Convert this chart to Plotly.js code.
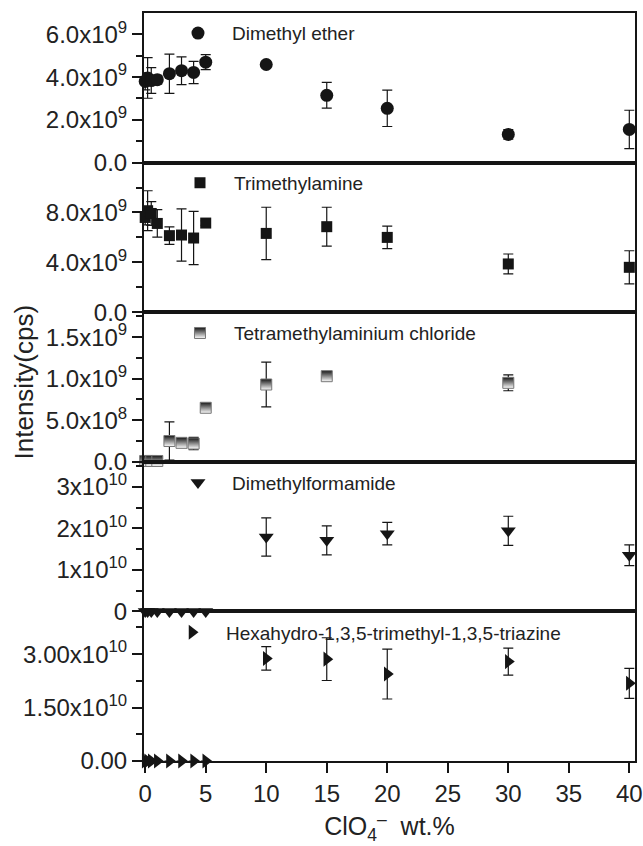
<!DOCTYPE html>
<html><head><meta charset="utf-8">
<script src="https://cdn.plot.ly/plotly-3.0.1.min.js"></script>
<style>html,body{margin:0;padding:0;background:#fff}#chart{width:643px;height:846px}</style>
</head><body><div id="chart"></div>
<script>
const xVals = [0, 0.2, 0.5, 1, 2, 3, 4, 5, 10, 15, 20, 30, 40];

const names = ['Dimethyl ether', 'Trimethylamine', 'Tetramethylaminium chloride', 'Dimethylformamide', 'Hexahydro-1,3,5-trimethyl-1,3,5-triazine'];

const dmeY   = [3.8e9, 3.96e9, 3.84e9, 3.88e9, 4.16e9, 4.3e9, 4.22e9, 4.7e9, 4.59e9, 3.15e9, 2.54e9, 1.32e9, 1.55e9];
const dmeErr = [0.4e9, 0.95e9, 0.6e9, 0.2e9, 0.92e9, 0.65e9, 0.52e9, 0.35e9, 0.1e9, 0.6e9, 0.85e9, 0.22e9, 0.9e9];

const tmaY   = [7.6e9, 8.14e9, 7.92e9, 7.12e9, 6.14e9, 6.19e9, 5.95e9, 7.15e9, 6.32e9, 6.86e9, 6.0e9, 3.87e9, 3.6e9];
const tmaErr = [0.6e9, 1.6e9, 0.95e9, 1.1e9, 0.7e9, 2.1e9, 2.13e9, 0.18e9, 2.1e9, 1.56e9, 0.9e9, 0.8e9, 1.33e9];

const tmacY   = [0.01e9, 0.01e9, 0.01e9, 0.01e9, 0.25e9, 0.228e9, 0.22e9, 0.65e9, 0.93e9, 1.03e9, null, 0.95e9, null];
const tmacErr = [0, 0, 0, 0, 0.23e9, 0, 0.075e9, 0.02e9, 0.27e9, 0.02e9, 0, 0.095e9, 0];

const dmfY   = [0, 0, 0, 0, 0, 0, 0, 0, 1.79e10, 1.71e10, 1.87e10, 1.94e10, 1.35e10];
const dmfErr = [0, 0, 0, 0, 0, 0, 0, 0, 0.46e10, 0.35e10, 0.27e10, 0.35e10, 0.25e10];

const hexY   = [0, 0, 0, 0, 0, 0, 0, 0, 2.88e10, 2.86e10, 2.44e10, 2.79e10, 2.18e10];
const hexErr = [0, 0, 0, 0, 0, 0, 0, 0, 0.33e10, 0.6e10, 0.7e10, 0.38e10, 0.42e10];

const y1TickVals = [0, 2e9, 4e9, 6e9];
const y1TickText = ['0.0', '2.0x10<sup>9</sup>', '4.0x10<sup>9</sup>', '6.0x10<sup>9</sup>'];
const y1Minor = [1e9, 3e9, 5e9];
const y2TickVals = [0, 4e9, 8e9];
const y2TickText = ['0.0', '4.0x10<sup>9</sup>', '8.0x10<sup>9</sup>'];
const y2Minor = [2e9, 6e9, 10e9];
const y3TickVals = [0, 0.5e9, 1e9, 1.5e9];
const y3TickText = ['0.0', '5.0x10<sup>8</sup>', '1.0x10<sup>9</sup>', '1.5x10<sup>9</sup>'];
const y3Minor = [0.25e9, 0.75e9, 1.25e9, 1.75e9];
const y4TickVals = [0, 1e10, 2e10, 3e10];
const y4TickText = ['0', '1x10<sup>10</sup>', '2x10<sup>10</sup>', '3x10<sup>10</sup>'];
const y4Minor = [0.5e10, 1.5e10, 2.5e10, 3.5e10];
const y5TickVals = [0, 1.5e10, 3e10];
const y5TickText = ['0.00', '1.50x10<sup>10</sup>', '3.00x10<sup>10</sup>'];
const y5Minor = [0.75e10, 2.25e10, 3.75e10];
const xTickVals = [0, 5, 10, 15, 20, 25, 30, 35, 40];

const seriesY = [dmeY, tmaY, tmacY, dmfY, hexY];
const seriesErr = [dmeErr, tmaErr, tmacErr, dmfErr, hexErr];
const yRanges = [[0, 7e9], [0, 12e9], [0, 1.8e9], [0, 3.6e10], [0, 4.2e10]];
const tickVals = [y1TickVals, y2TickVals, y3TickVals, y4TickVals, y5TickVals];
const tickText = [y1TickText, y2TickText, y3TickText, y4TickText, y5TickText];
const minorVals = [y1Minor, y2Minor, y3Minor, y4Minor, y5Minor];

const INK = '#151515';
const FONT = '"Liberation Sans", Arial, sans-serif';
const markers = [
  {symbol: 'circle', size: 13, color: INK},
  {symbol: 'square', size: 11, color: INK},
  {symbol: 'square', size: 11, color: INK, line: {color: '#777', width: 1}, gradient: {type: 'vertical', color: '#ffffff'}},
  {symbol: 'triangle-down', size: 13, color: INK},
  {symbol: 'triangle-right', size: 13, color: INK}
];

const traces = [];
const layout = {
  width: 643, height: 846,
  margin: {l: 144, r: 8, t: 13, b: 85},
  paper_bgcolor: '#fff', plot_bgcolor: '#fff',
  font: {family: FONT, color: '#222'},
  showlegend: true,
  annotations: [{
    text: 'Intensity(cps)', xref: 'paper', yref: 'paper', x: -0.245, y: 0.507,
    xanchor: 'center', yanchor: 'middle',
    textangle: -90, showarrow: false, font: {size: 26, family: FONT, color: '#222'}
  }]
};

const legendX = [0.0407, 0.0448, 0.0448, 0.0407, 0.0285];
const legendY = [0.973, 0.773, 0.572, 0.372, 0.172];
for (let i = 0; i < 5; i++) {
  const k = i + 1;
  const sfx = k === 1 ? '' : String(k);
  const lg = k === 1 ? 'legend' : 'legend' + k;
  traces.push({
    type: 'scatter', mode: 'markers', x: xVals, y: seriesY[i],
    name: names[i], xaxis: 'x' + sfx, yaxis: 'y' + sfx, legend: lg,
    marker: markers[i], cliponaxis: false,
    error_y: {type: 'data', array: seriesErr[i], visible: true, color: INK, thickness: 1.2, width: 5}
  });
  const dom = [(4 - i) * 0.2, (5 - i) * 0.2];
  layout['xaxis' + sfx] = {
    domain: [0, 1], anchor: 'y' + sfx, range: [-0.1, 40.47],
    showline: true, mirror: true, linecolor: INK, linewidth: 2,
    showgrid: false, zeroline: false,
    ticks: i === 4 ? 'outside' : '', ticklen: 10, tickwidth: 2, tickcolor: INK,
    showticklabels: i === 4, tickmode: 'array', tickvals: xTickVals,
    tickfont: {size: 24, family: FONT, color: '#222'}
  };
  if (i !== 0) layout['xaxis' + sfx].matches = 'x';
  layout['yaxis' + sfx] = {
    domain: dom, anchor: 'x' + sfx, range: yRanges[i],
    showline: true, mirror: true, linecolor: INK, linewidth: 2,
    showgrid: false, zeroline: false,
    ticks: 'outside', ticklen: 10, tickwidth: 2, tickcolor: INK,
    tickmode: 'array', tickvals: tickVals[i], ticktext: tickText[i],
    tickfont: {size: 24, family: FONT, color: '#222'},
    minor: {tickmode: 'array', tickvals: minorVals[i], ticks: 'outside', ticklen: 6, tickwidth: 2, tickcolor: INK, showgrid: false}
  };
  layout[lg] = {
    x: legendX[i], y: legendY[i], xanchor: 'left', yanchor: 'middle',
    bgcolor: 'rgba(0,0,0,0)', borderwidth: 0, itemwidth: 58,
    font: {size: 19, family: FONT, color: '#222'}
  };
}
layout.xaxis5.title = {
  text: 'ClO<sub>4</sub><sup>\u2013</sup>  wt.%', standoff: 12,
  font: {size: 25, family: FONT, color: '#222'}
};

Plotly.newPlot('chart', traces, layout, {displayModeBar: false, staticPlot: true});
</script>
</body></html>
